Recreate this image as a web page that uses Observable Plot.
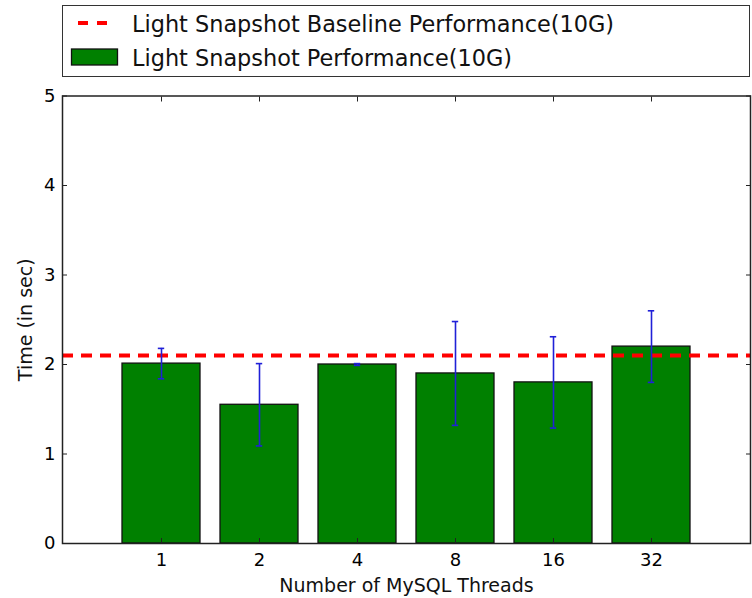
<!DOCTYPE html>
<html>
<head>
<meta charset="utf-8">
<script src="https://cdn.jsdelivr.net/npm/d3@7"></script>
<script src="https://cdn.jsdelivr.net/npm/@observablehq/plot@0.6"></script>
<style>
  html, body { margin: 0; padding: 0; background: #fff; }
  #wrap { position: relative; width: 752px; height: 598px; font-family: "DejaVu Sans", sans-serif; }
  #chart { position: absolute; left: 0; top: 0; }
  #legend { position: absolute; left: 62px; top: 5px; width: 686px; height: 70px; border: 1.5px solid #333; background: #fff; }
  #legend svg { position: absolute; left: 0; top: 0; }
</style>
</head>
<body>
<div id="wrap">
  <div id="chart"></div>
  <div id="legend"></div>
</div>
<script>
const threads = ["1", "2", "4", "8", "16", "32"];
const times = [2.01, 1.55, 2.00, 1.90, 1.80, 2.20];
const errors = [0.17, 0.46, 0.01, 0.58, 0.51, 0.40];
const baseline = 2.1;
const yTicks = [0, 1, 2, 3, 4, 5];
const seriesLabels = ["Light Snapshot Baseline Performance(10G)", "Light Snapshot Performance(10G)"];
const xTitle = "Number of MySQL Threads";
const yTitle = "Time (in sec)";

const data = threads.map((t, i) => ({t, v: times[i], lo: times[i] - errors[i], hi: times[i] + errors[i]}));

const plot = Plot.plot({
  width: 752,
  height: 598,
  marginTop: 95.5,
  marginBottom: 55,
  marginLeft: 62,
  marginRight: 2,
  style: {fontFamily: "DejaVu Sans, sans-serif", fontSize: "18px", color: "#000", background: "#fff"},
  x: {type: "band", domain: threads, padding: 0.2, paddingOuter: 0.6, label: null},
  y: {domain: [0, 5], label: null},
  marks: [
    Plot.barY(data, {x: "t", y: "v", fill: "#008000", stroke: "#111", strokeWidth: 1.3}),
    Plot.ruleY([baseline], {stroke: "#ff0000", strokeWidth: 4, strokeDasharray: "11,8"}),
    Plot.ruleX(data, {x: "t", y1: "lo", y2: "hi", stroke: "#2020d8", strokeWidth: 1.6}),
    Plot.tickY(data, {x: "t", y: "lo", stroke: "#2020d8", strokeWidth: 1.6, insetLeft: 35.8, insetRight: 35.8}),
    Plot.tickY(data, {x: "t", y: "hi", stroke: "#2020d8", strokeWidth: 1.6, insetLeft: 35.8, insetRight: 35.8}),
    Plot.frame({stroke: "#222", strokeWidth: 1.5}),
    Plot.axisY(yTicks, {anchor: "left", tickSize: 0, tickPadding: 7, fontSize: 18, label: null, tickFormat: d => String(d)}),
    Plot.axisY(yTicks, {anchor: "left", tickSize: -5, fill: "none", label: null, stroke: "#222"}),
    Plot.axisY(yTicks, {anchor: "right", tickSize: -5, fill: "none", label: null, stroke: "#222"}),
    Plot.axisX({anchor: "bottom", tickSize: 0, tickPadding: 10, fontSize: 18, label: null}),
    Plot.axisX({anchor: "bottom", tickSize: -5, fill: "none", label: null, stroke: "#222"}),
    Plot.axisX({anchor: "top", tickSize: -5, fill: "none", label: null, stroke: "#222"}),
    Plot.text([xTitle], {frameAnchor: "bottom", dy: 48, fontSize: 19, textAnchor: "middle", fill: "#111"}),
    Plot.text([yTitle], {frameAnchor: "left", dx: -37, rotate: -90, fontSize: 19, textAnchor: "middle", fill: "#111"})
  ]
});
document.getElementById("chart").appendChild(plot);

// Legend
const lg = d3.select("#legend").append("svg").attr("width", 686).attr("height", 70);
lg.append("line").attr("x1", 15).attr("x2", 45).attr("y1", 17).attr("y2", 17)
  .attr("stroke", "#ff0000").attr("stroke-width", 4).attr("stroke-dasharray", "10,9");
lg.append("rect").attr("x", 8.5).attr("y", 43).attr("width", 46).attr("height", 16)
  .attr("fill", "#008000").attr("stroke", "#111").attr("stroke-width", 1.3);
lg.selectAll("text.l").data(seriesLabels).join("text")
  .attr("x", 69).attr("y", (d, i) => i === 0 ? 25.5 : 59.5)
  .attr("font-size", 22.4).attr("font-family", "DejaVu Sans, sans-serif").attr("fill", "#111")
  .text(d => d);
</script>
</body>
</html>
